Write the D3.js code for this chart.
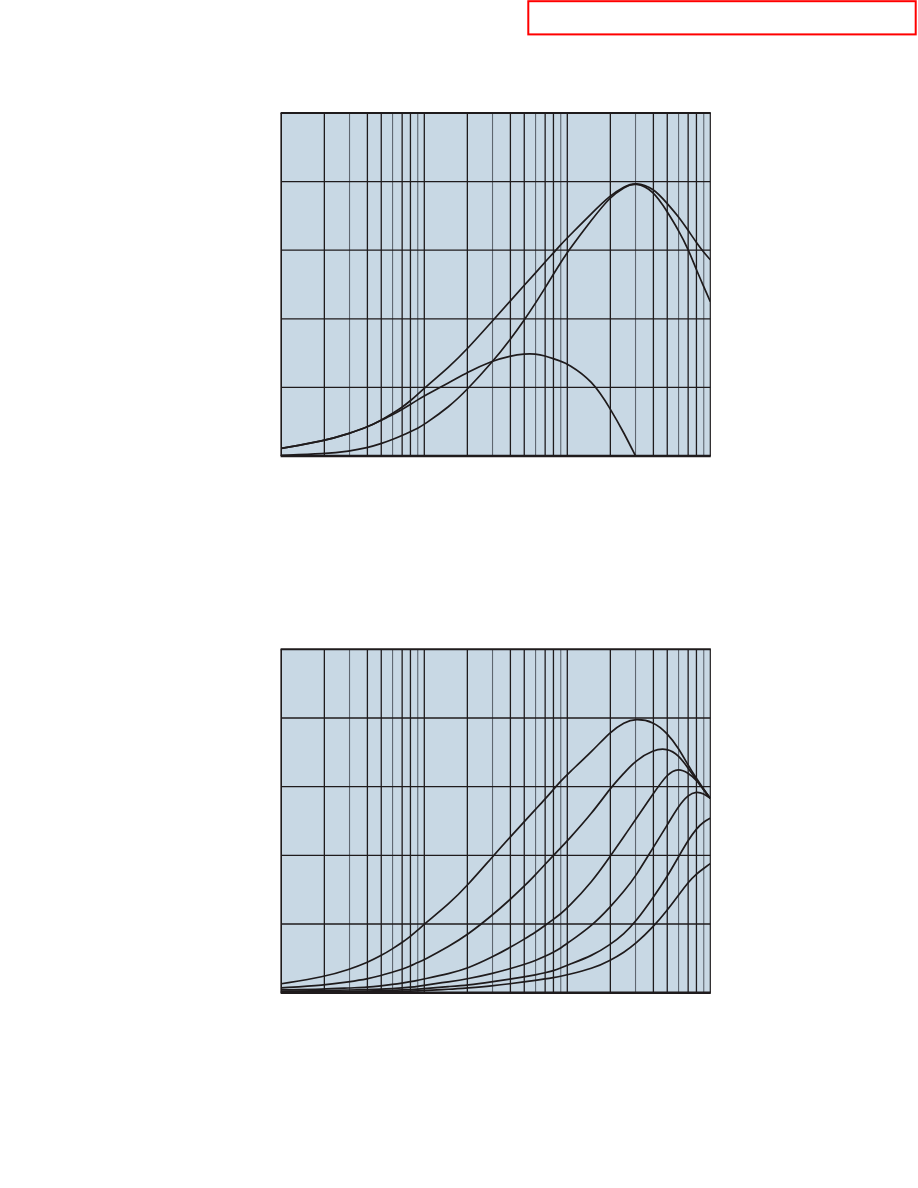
<!DOCTYPE html>
<html>
<head>
<meta charset="utf-8">
<script src="https://cdn.jsdelivr.net/npm/d3@7/dist/d3.min.js"></script>
<style>
  html, body { margin: 0; padding: 0; background: #ffffff; }
  svg { display: block; }
</style>
</head>
<body>
<script>
// ---------- DATA ----------
const xValues = [1,2,3,4,5,6,7,8,9,10,15,20,30,40,50,60,70,80,90,100,150,200,250,300,400,500,600,700,800,900,1000];

// Panel 1 (top)
const top_A = [0.11,0.22,0.33,0.42,0.52,0.62,0.71,0.805,0.90,0.99,1.30,1.56,1.97,2.26,2.49,2.67,2.83,2.96,3.08,3.18,3.55,3.80,3.93,3.99,3.91,3.68,3.49,3.29,3.11,2.97,2.86];
const top_B = [0.01,0.03,0.07,0.12,0.18,0.24,0.30,0.355,0.405,0.46,0.72,0.97,1.37,1.70,1.98,2.23,2.45,2.65,2.82,2.97,3.46,3.78,3.92,3.99,3.87,3.56,3.29,3.02,2.71,2.47,2.25];
const top_C = [0.11,0.22,0.33,0.42,0.52,0.60,0.68,0.75,0.82,0.88,1.07,1.22,1.39,1.46,1.49,1.49,1.46,1.42,1.38,1.35,1.10,0.69,0.33,0.00,null,null,null,null,null,null,null];

// Panel 2 (bottom)
const bot_1 = [0.13,0.23,0.34,0.44,0.54,0.64,0.73,0.82,0.91,1.00,1.30,1.56,1.98,2.27,2.49,2.67,2.82,2.96,3.08,3.18,3.52,3.80,3.94,3.99,3.95,3.78,3.56,3.31,3.12,2.96,2.83];
const bot_2 = [0.07,0.11,0.16,0.20,0.25,0.30,0.34,0.39,0.44,0.48,0.68,0.84,1.13,1.36,1.55,1.72,1.87,2.00,2.11,2.21,2.62,2.98,3.20,3.38,3.54,3.56,3.46,3.27,3.10,2.95,2.83];
const bot_3 = [0.04,0.05,0.07,0.08,0.10,0.12,0.14,0.16,0.18,0.20,0.28,0.35,0.52,0.66,0.78,0.88,0.98,1.07,1.15,1.23,1.62,1.99,2.28,2.52,2.90,3.19,3.27,3.20,3.10,2.95,2.83];
const bot_4 = [0.02,0.03,0.04,0.045,0.05,0.06,0.07,0.08,0.09,0.11,0.16,0.20,0.28,0.35,0.41,0.47,0.53,0.59,0.65,0.72,0.98,1.25,1.48,1.69,2.12,2.44,2.72,2.88,2.93,2.90,2.83];
const bot_5 = [0.01,0.015,0.02,0.025,0.03,0.035,0.04,0.045,0.05,0.06,0.09,0.11,0.16,0.20,0.23,0.26,0.29,0.32,0.36,0.40,0.54,0.70,0.86,1.03,1.39,1.69,1.98,2.22,2.39,2.49,2.54];
const bot_6 = [0.005,0.008,0.01,0.012,0.015,0.018,0.02,0.023,0.027,0.03,0.05,0.07,0.10,0.13,0.16,0.18,0.20,0.22,0.24,0.26,0.35,0.47,0.59,0.71,0.96,1.20,1.42,1.61,1.73,1.81,1.88];

const decades = [1, 10, 100];
const minorMultipliers = [1,2,3,4,5,6,7,8,9];
const lightMultipliers = [3,6,9];
const yTicks = [0,1,2,3,4,5];

const topSeries = [top_A, top_B, top_C];
const bottomSeries = [bot_1, bot_2, bot_3, bot_4, bot_5, bot_6];

// ---------- DRAW ----------
const W = 918, H = 1188;
const INK = "#1f1b1c";
const svg = d3.select("body").append("svg").attr("width", W).attr("height", H);

// red header box
svg.append("rect")
  .attr("x", 528.3).attr("y", 1.2).attr("width", 387.4).attr("height", 33.2)
  .attr("fill", "none").attr("stroke", "#ff0000").attr("stroke-width", 2);

function panel(top, bottom, series) {
  const left = 281.3, right = 710.3;
  const x = d3.scaleLog().domain([1, 1000]).range([left, right]);
  const y = d3.scaleLinear().domain([0, 5]).range([bottom, top]);
  const g = svg.append("g");

  g.append("rect")
    .attr("x", left).attr("y", top)
    .attr("width", right - left).attr("height", bottom - top)
    .attr("fill", "#c8d8e4");

  // vertical grid
  const vt = [];
  decades.forEach(d => minorMultipliers.forEach(m => vt.push({v: m * d, light: lightMultipliers.includes(m)})));
  g.selectAll(".vg").data(vt).enter().append("line")
    .attr("x1", d => x(d.v)).attr("x2", d => x(d.v))
    .attr("y1", top).attr("y2", bottom)
    .attr("stroke", d => d.light ? "#5e666f" : INK)
    .attr("stroke-width", d => d.light ? 1.1 : 1.3);

  // horizontal grid
  g.selectAll(".hg").data(yTicks.slice(1, -1)).enter().append("line")
    .attr("x1", left).attr("x2", right)
    .attr("y1", d => y(d)).attr("y2", d => y(d))
    .attr("stroke", INK).attr("stroke-width", 1.3);

  // curves
  const line = d3.line()
    .defined(d => d[1] !== null)
    .x(d => x(d[0])).y(d => y(d[1]))
    .curve(d3.curveBasis);

  const clipId = "clip" + Math.round(top);
  svg.append("clipPath").attr("id", clipId).append("rect")
    .attr("x", left).attr("y", top).attr("width", right - left).attr("height", bottom - top);

  g.append("g").attr("clip-path", `url(#${clipId})`)
    .selectAll("path").data(series).enter().append("path")
    .attr("d", s => line(xValues.map((xv, i) => [xv, s[i]])))
    .attr("fill", "none").attr("stroke", INK).attr("stroke-width", 1.7)
    .attr("stroke-linejoin", "round");

  // frame
  g.append("line").attr("x1", left - 0.7).attr("x2", right + 0.5).attr("y1", top).attr("y2", top)
    .attr("stroke", INK).attr("stroke-width", 2);
  g.append("line").attr("x1", left - 0.7).attr("x2", right + 0.5).attr("y1", bottom).attr("y2", bottom)
    .attr("stroke", INK).attr("stroke-width", 2.5);
  g.append("line").attr("x1", left).attr("x2", left).attr("y1", top).attr("y2", bottom)
    .attr("stroke", INK).attr("stroke-width", 1.4);
  g.append("line").attr("x1", right).attr("x2", right).attr("y1", top).attr("y2", bottom)
    .attr("stroke", INK).attr("stroke-width", 1.2);
}

panel(113, 456, topSeries);
panel(649.3, 992.7, bottomSeries);
</script>
</body>
</html>
